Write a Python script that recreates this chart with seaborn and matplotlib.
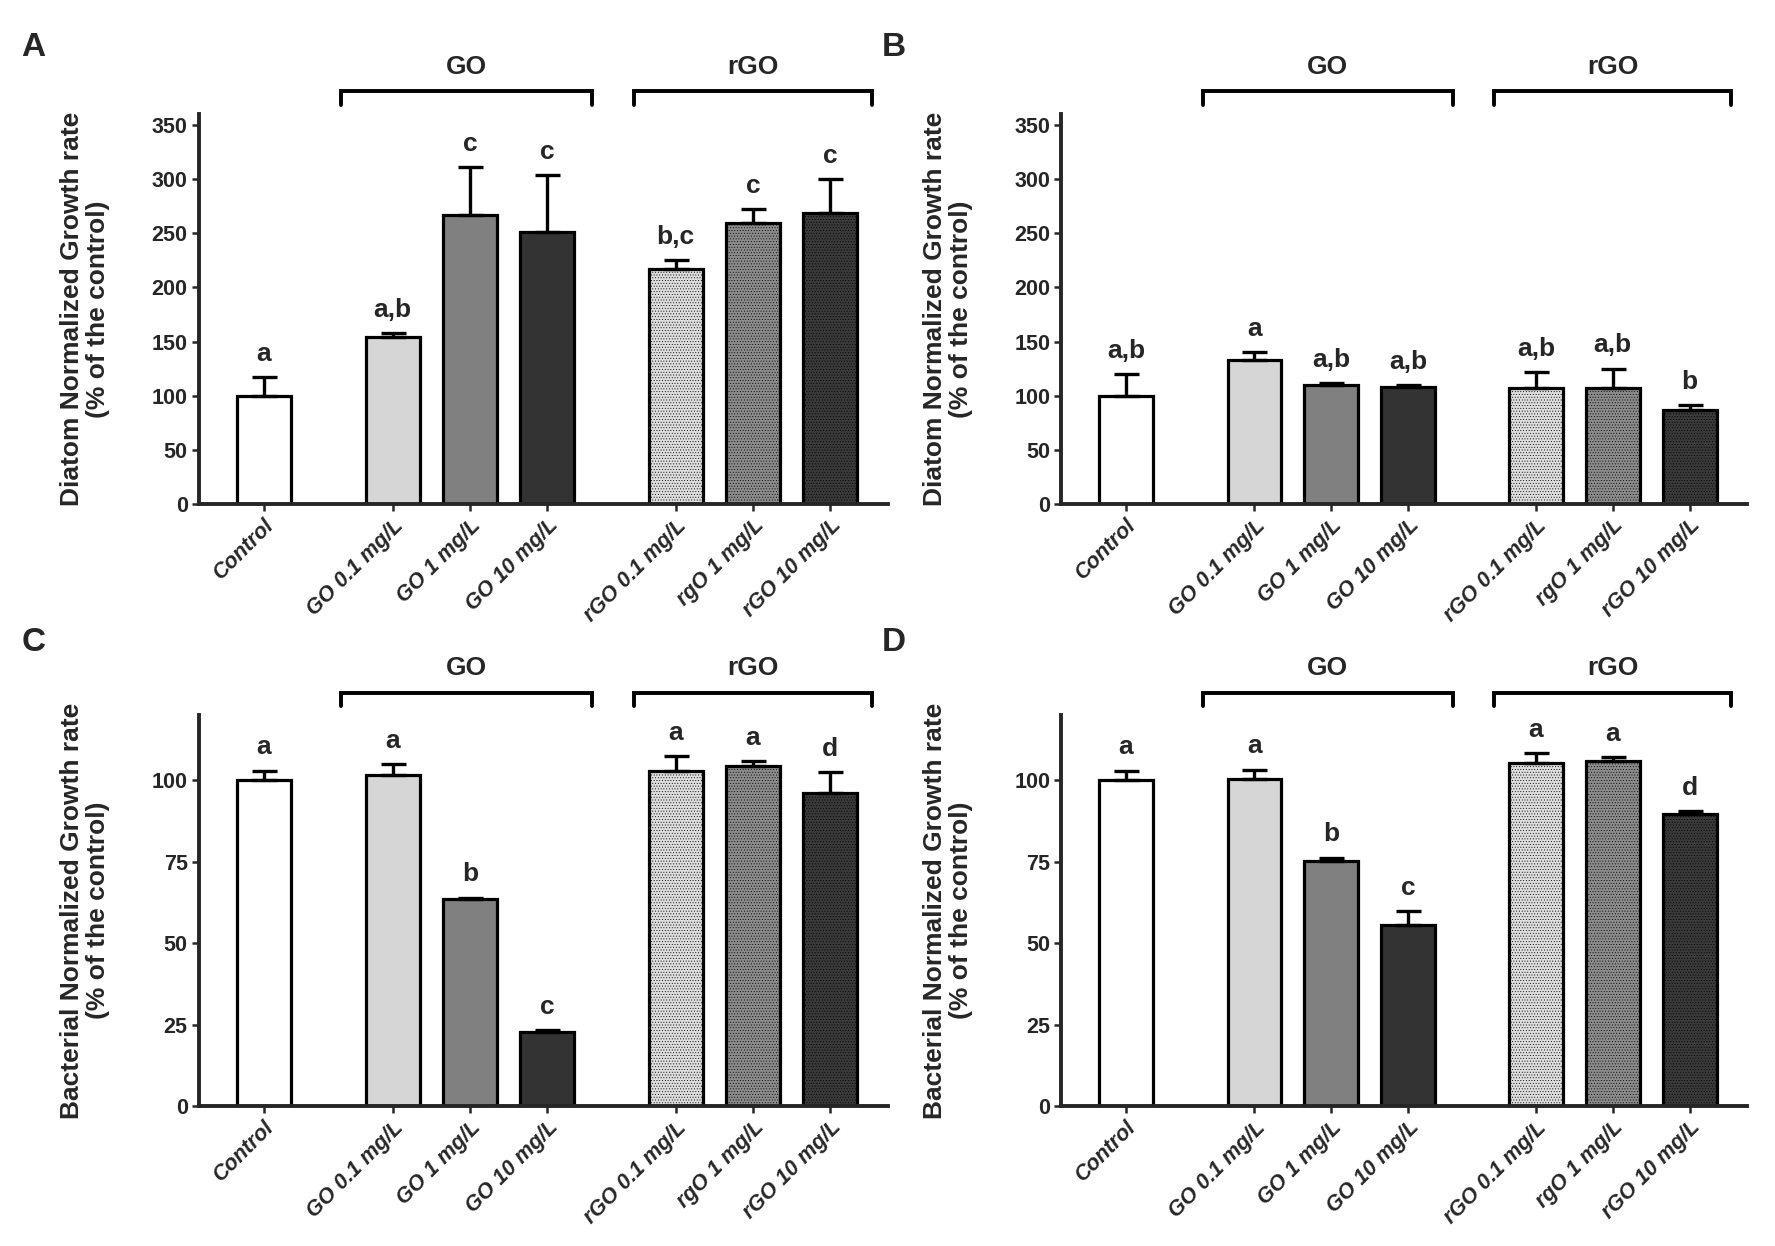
import numpy as np
import pandas as pd
import seaborn as sns
import matplotlib.pyplot as plt

# categories and bar positions (gap between control / GO / rGO groups)
groups = ['Control', 'GO 0.1 mg/L', 'GO 1 mg/L', 'GO 10 mg/L',
          'rGO 0.1 mg/L', 'rgO 1 mg/L', 'rGO 10 mg/L']
xpos = [0, 1.67, 2.67, 3.67, 5.33, 6.33, 7.33]
fills = ['#ffffff', '#d6d6d6', '#808080', '#333333', '#dedede', '#8c8c8c', '#3a3a3a']
stipple = [False, False, False, False, True, True, True]

# panel A - diatom
a_mean = [100, 154, 267, 251, 217, 259, 269]
a_err = [17, 4, 44, 53, 8, 13, 31]
a_sig = ['a', 'a,b', 'c', 'c', 'b,c', 'c', 'c']
# panel B - diatom
b_mean = [100, 133, 110, 108, 107, 107, 87]
b_err = [20, 7, 1.5, 1.5, 15, 18, 4]
b_sig = ['a,b', 'a', 'a,b', 'a,b', 'a,b', 'a,b', 'b']
# panel C - bacteria
c_mean = [100, 101.5, 63.5, 22.8, 103, 104.5, 96]
c_err = [3, 3.5, 0.5, 0.4, 4.5, 1.5, 6.5]
c_sig = ['a', 'a', 'b', 'c', 'a', 'a', 'd']
# panel D - bacteria
d_mean = [100, 100.3, 75.3, 55.5, 105.3, 105.8, 89.7]
d_err = [3, 3, 1, 4.3, 3, 1.3, 0.8]
d_sig = ['a', 'a', 'b', 'c', 'a', 'a', 'd']

sns.set_style('ticks')
plt.rcParams['font.family'] = ['Liberation Sans', 'DejaVu Sans']
plt.rcParams['hatch.linewidth'] = 0.35

fig = plt.figure(figsize=(17.75, 12.46), dpi=100)
boxes = {'A': [0.112, 0.5955, 0.388, 0.313], 'B': [0.598, 0.5955, 0.386, 0.313],
         'C': [0.112, 0.1124, 0.388, 0.3136], 'D': [0.598, 0.1124, 0.386, 0.3136]}
panels = {'A': (a_mean, a_err, a_sig, 'Diatom', 360, 50),
          'B': (b_mean, b_err, b_sig, 'Diatom', 360, 50),
          'C': (c_mean, c_err, c_sig, 'Bacterial', 120, 25),
          'D': (d_mean, d_err, d_sig, 'Bacterial', 120, 25)}

for key, (mean, err, sig, organism, ytop, ystep) in panels.items():
    ax = fig.add_axes(boxes[key])
    df = pd.DataFrame({'x': xpos, 'y': mean, 'g': groups})
    sns.barplot(data=df, x='x', y='y', hue='g', palette=fills, hue_order=groups,
                native_scale=True, width=0.7, legend=False, errorbar=None,
                edgecolor='black', linewidth=2.3, ax=ax, zorder=2)
    for p in ax.patches:
        cx = p.get_x() + p.get_width() / 2
        i = int(np.argmin([abs(cx - v) for v in xpos]))
        p.set_facecolor(fills[i])
        if stipple[i]:
            p.set_hatch('......')
    ax.errorbar(xpos, mean, yerr=[np.zeros(len(err)), err], fmt='none',
                ecolor='black', elinewidth=2.4, capsize=9, capthick=2.4, zorder=3)
    for x, m, e, s in zip(xpos, mean, err, sig):
        ax.annotate(s, (x, m + e), xytext=(0, 8), textcoords='offset points',
                    ha='center', va='bottom', fontsize=19, fontweight='bold')
    ax.set_xlim(-0.84, 8.07)
    ax.set_ylim(0, ytop)
    ax.set_yticks(np.arange(0, ytop, ystep))
    ax.set_yticklabels([str(v) for v in np.arange(0, ytop, ystep)],
                       fontsize=15.5, fontweight='bold')
    ax.set_xticks(xpos)
    ax.set_xticklabels(groups, rotation=45, ha='right', rotation_mode='anchor',
                       fontsize=15.5, fontweight='bold', fontstyle='italic')
    ax.set_xlabel('')
    ax.set_ylabel(organism + ' Normalized Growth rate\n(% of the control)',
                  fontsize=19, fontweight='bold', labelpad=30, linespacing=1.1)
    sns.despine(ax=ax)
    for sp in ['left', 'bottom']:
        ax.spines[sp].set_linewidth(2.8)
    ax.tick_params(axis='both', width=1.8, length=5, direction='out', pad=3)

    # group brackets
    tr = ax.get_xaxis_transform()
    for lo, hi, name in [(1.0, 4.25, 'GO'), (4.79, 7.87, 'rGO')]:
        ax.plot([lo, lo, hi, hi], [1.023, 1.058, 1.058, 1.023], color='black',
                lw=2.8, transform=tr, clip_on=False, solid_joinstyle='miter')
        ax.text((lo + hi) / 2, 1.09, name, transform=tr, ha='center', va='bottom',
                fontsize=19, fontweight='bold')

fig.text(0.012, 0.962, 'A', fontsize=24, fontweight='bold', va='center')
fig.text(0.497, 0.962, 'B', fontsize=24, fontweight='bold', va='center')
fig.text(0.012, 0.484, 'C', fontsize=24, fontweight='bold', va='center')
fig.text(0.497, 0.484, 'D', fontsize=24, fontweight='bold', va='center')

fig.savefig('out.png', dpi=100, facecolor='white')
